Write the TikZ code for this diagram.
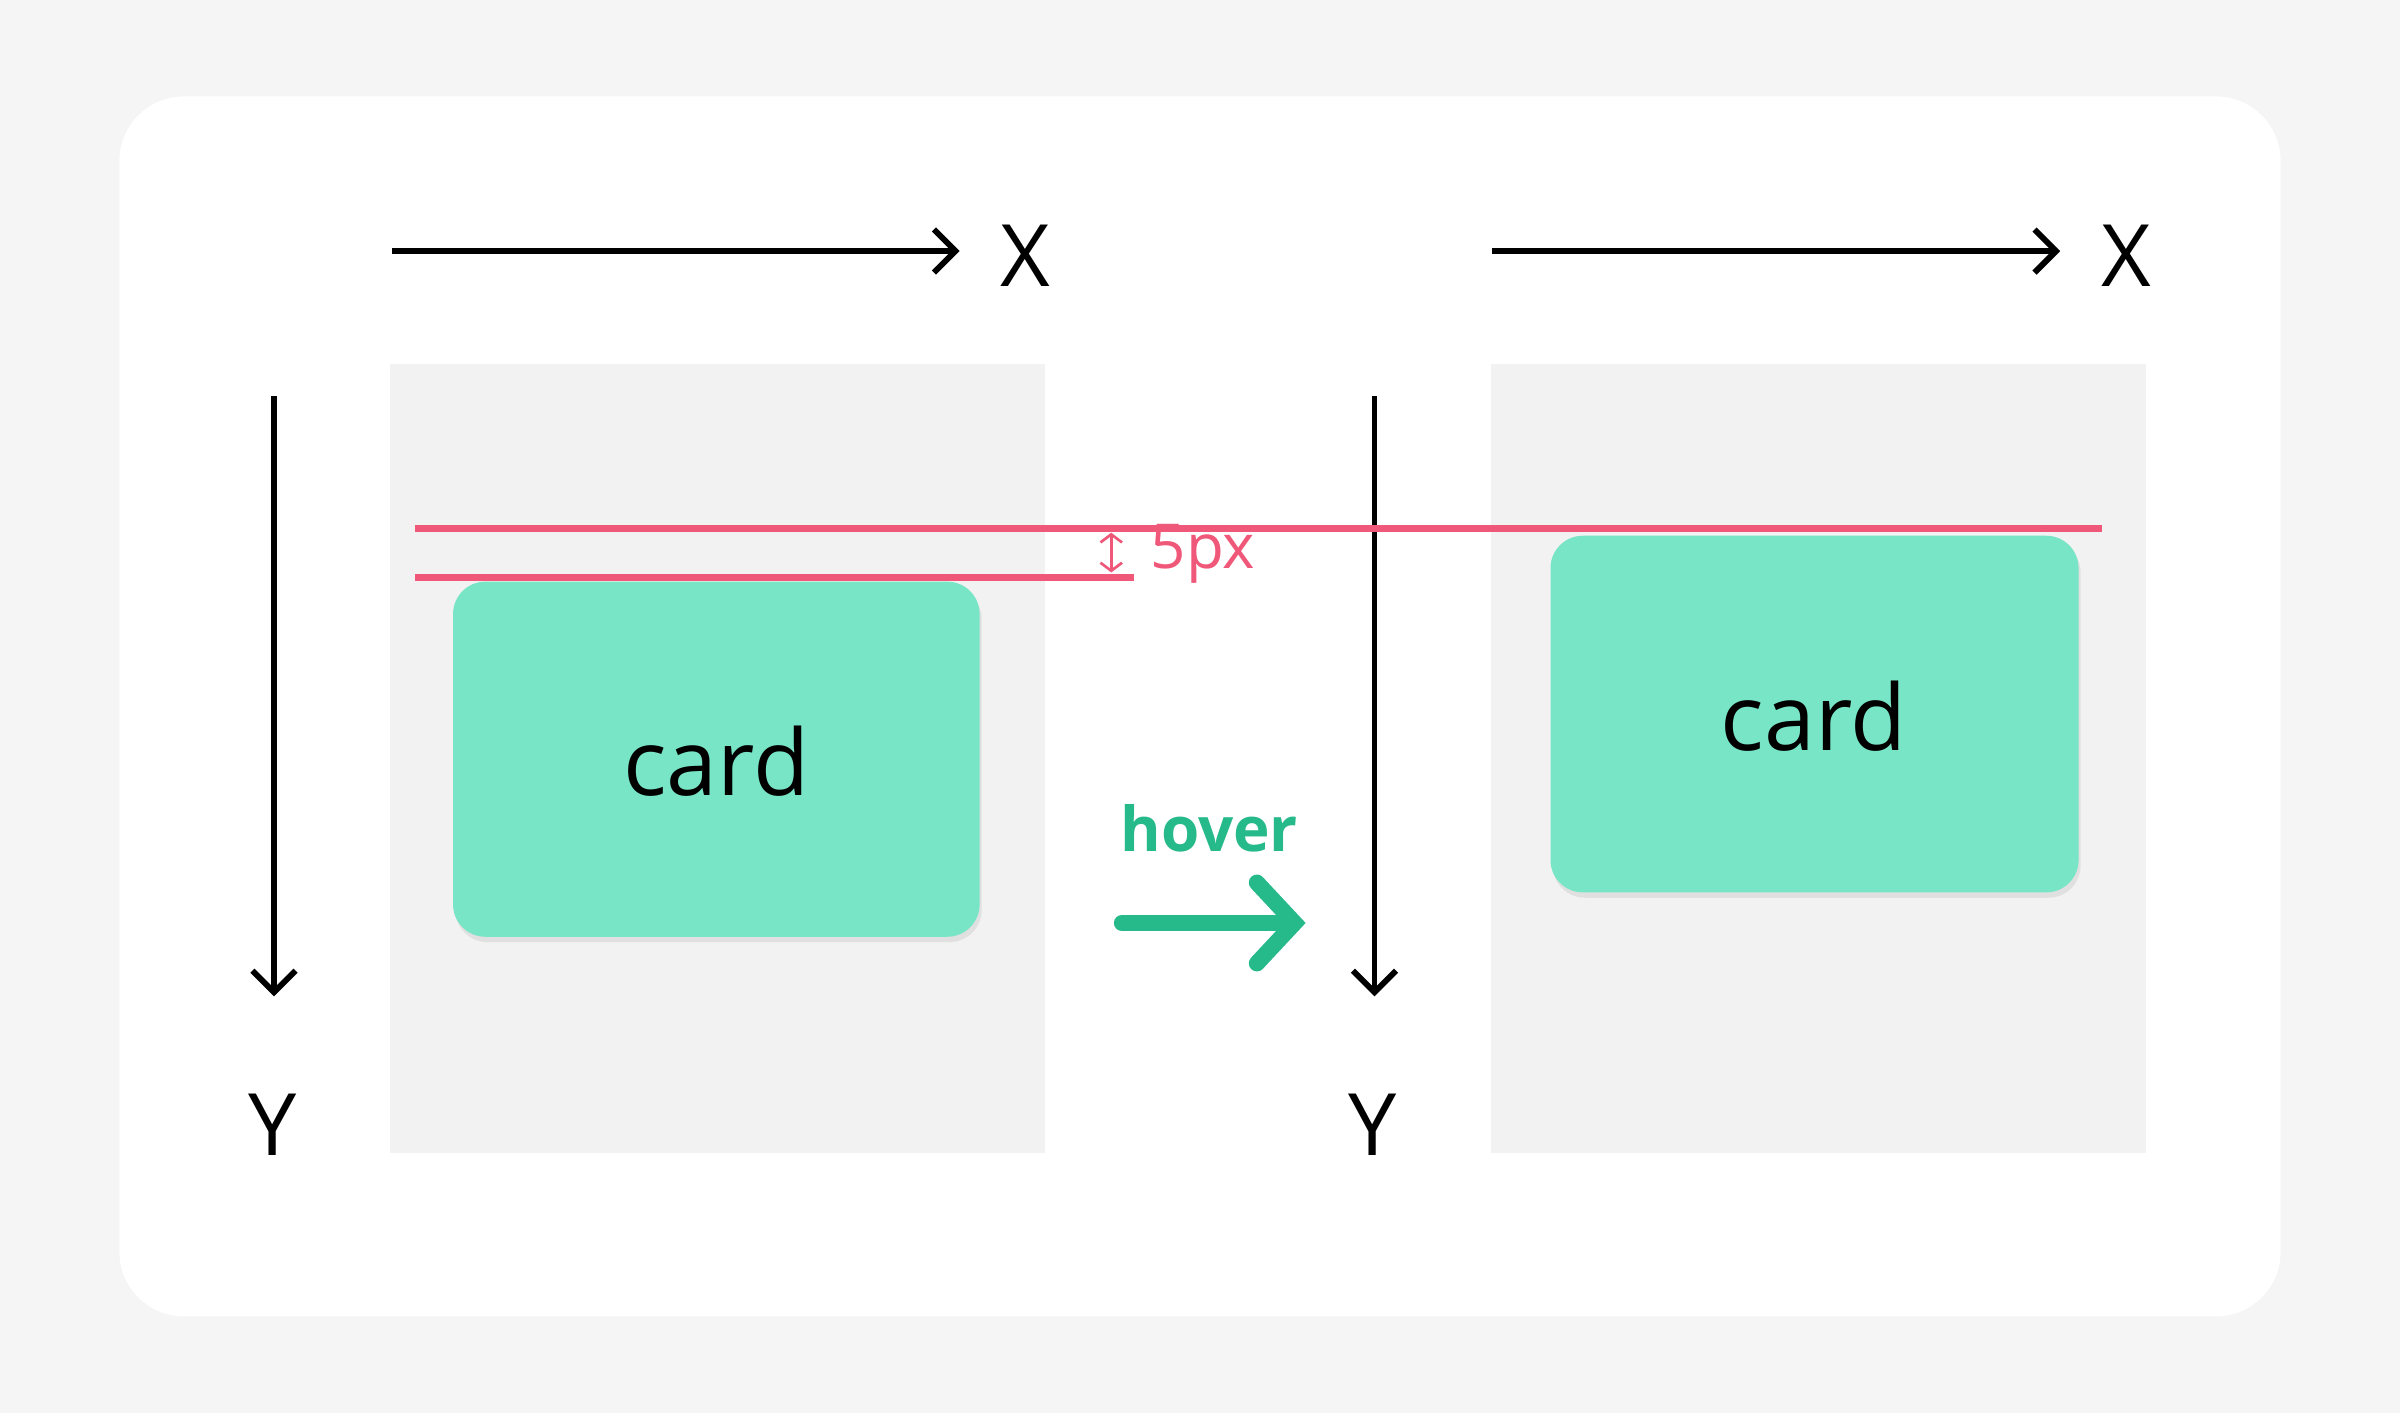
\documentclass[tikz,border=0pt]{standalone}
\usepackage{fontspec}
\setmainfont{Open Sans}
\usetikzlibrary{arrows.meta,shadows}
\definecolor{pagebg}{HTML}{F5F5F5}
\definecolor{panelbg}{HTML}{F2F2F2}
\definecolor{cardfill}{HTML}{77E5C6}
\definecolor{guide}{HTML}{F0587A}
\definecolor{hovergreen}{HTML}{26B98A}
\tikzset{
  axis/.style={line width=1.1pt, -{Straight Barb[length=4pt,width=8pt]}},
  axislabel/.style={font=\fontsize{16}{16}\selectfont},
  panel/.style={fill=panelbg, draw=none},
  card/.style={fill=cardfill, draw=none, rounded corners=6pt,
    drop shadow={shadow xshift=0.4pt, shadow yshift=-1pt, opacity=0.12, fill=black!60}},
  cardtext/.style={font=\fontsize{17}{17}\selectfont},
  guideline/.style={guide, line width=1.3pt}
}
\begin{document}
\begin{tikzpicture}[x=0.01cm, y=-0.01cm]
    % 1) Background and white frame
    \fill[pagebg] (0,0) rectangle (1568,923);
    \useasboundingbox (0,0) rectangle (1568,923);
    \fill[white, rounded corners=12pt] (78,63) rectangle (1490,860);

    % 2) Panels
    \fill[panel] (255,238) rectangle (683,753);
    \fill[panel] (974,238) rectangle (1402,753);

    % 3) Axes, left and right
    \foreach \dx/\n in {0/L,719/R} {
      \coordinate (xs\n) at (256+\dx,164);
      \coordinate (xe\n) at (627+\dx,164);
      \node[axislabel] (x\n) at (670+\dx,167) {X};
      \draw[axis] (xs\n) -- (xe\n);
      \coordinate (ys\n) at (179+\dx,259);
      \coordinate (ye\n) at (179+\dx,651);
      \node[axislabel] (y\n) at (178+\dx,735) {Y};
      \draw[axis] (ys\n) -- (ye\n);
    }

    % 4) Cards
    \fill[card] (296,380) rectangle (640,612);
    \node[cardtext] (cardL) at (468,497) {card};
    \fill[card] (1013,350) rectangle (1358,583);
    \node[cardtext] (cardR) at (1185,468) {card};

    % 5) Guide lines and the 5px gap
    \coordinate (gTopL) at (271,345);
    \coordinate (gTopR) at (1373,345);
    \coordinate (gLowL) at (271,377);
    \coordinate (gLowR) at (741,377);
    \draw[guideline] (gTopL) -- (gTopR);
    \draw[guideline] (gLowL) -- (gLowR);
    \coordinate (gapA) at (726,348);
    \coordinate (gapB) at (726,374);
    \draw[guide, line width=0.5pt, {Straight Barb[length=1.5pt,width=4pt]}-{Straight Barb[length=1.5pt,width=4pt]}] (gapA) -- (gapB);
    \node[guide, font=\fontsize{11.5}{12}\selectfont] (gap) at (786,362) {5px};

    % 6) Hover arrow
    \node[hovergreen, font=\bfseries\fontsize{11.5}{12}\selectfont] (hover) at (790,541) {hover};
    \coordinate (hs) at (733,603);
    \coordinate (he) at (853,603);
    \draw[hovergreen, line width=3pt, line cap=round, -{Straight Barb[length=7pt,width=15pt,line cap=round]}] (hs) -- (he);
\end{tikzpicture}
\end{document}
